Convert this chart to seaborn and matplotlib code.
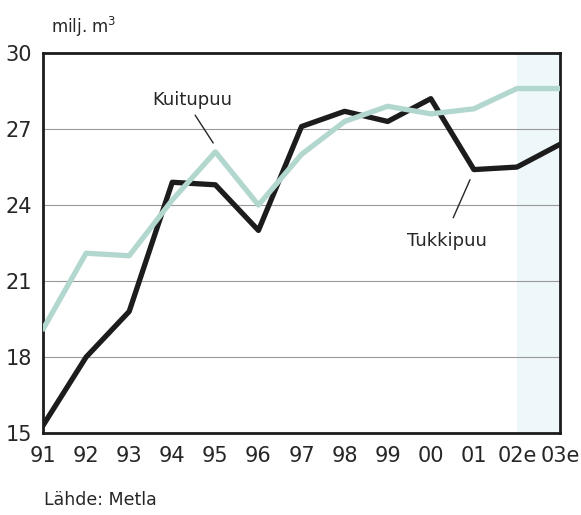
"""
Hakkuut: tukkipuu ja kuitupuu 1991-2003e (milj. m3)
"""

import pandas as pd
import matplotlib
matplotlib.use("Agg")
import matplotlib.pyplot as plt
import seaborn as sns

# =============== DATA ===============
years = ["91", "92", "93", "94", "95", "96", "97", "98", "99", "00", "01", "02e", "03e"]
tukkipuu = [15.3, 18.0, 19.8, 24.9, 24.8, 23.0, 27.1, 27.7, 27.3, 28.2, 25.4, 25.5, 26.4]
kuitupuu = [19.1, 22.1, 22.0, 24.2, 26.1, 24.0, 26.0, 27.3, 27.9, 27.6, 27.8, 28.6, 28.6]
y_ticks = [15, 18, 21, 24, 27, 30]

df = pd.DataFrame({
    "x": list(range(len(years))) * 2,
    "value": tukkipuu + kuitupuu,
    "series": ["Tukkipuu"] * len(years) + ["Kuitupuu"] * len(years),
})

# =============== STYLE ===============
sns.set_theme(style="white")
plt.rcParams["font.family"] = ["DejaVu Sans"]

DARK = "#1c1c1c"
TEXT = "#262626"
TEAL = "#b2d7cf"
SHADE = "#eef7fa"

fig = plt.figure(figsize=(5.81, 5.15), dpi=100)
ax = fig.add_axes([0.074, 0.159, 0.89, 0.738])

# forecast shading
ax.axvspan(len(years) - 2, len(years) - 1, color=SHADE, zorder=0, lw=0)

for y in y_ticks[1:-1]:
    ax.axhline(y, color="#999999", lw=0.8, zorder=1)

sns.lineplot(data=df, x="x", y="value", hue="series",
             palette={"Tukkipuu": DARK, "Kuitupuu": TEAL},
             hue_order=["Tukkipuu", "Kuitupuu"],
             linewidth=3.8, legend=False, ax=ax, zorder=3)
# kuitupuu on top
ax.lines[-1].set_zorder(4)

ax.set_xlim(0, len(years) - 1)
ax.set_ylim(15, 30)
ax.set_xticks(range(len(years)))
ax.set_xticklabels(years)
ax.set_yticks(y_ticks)
ax.set_xlabel("")
ax.set_ylabel("")

for side in ["left", "bottom", "top", "right"]:
    ax.spines[side].set_visible(True)
    ax.spines[side].set_color(DARK)
    ax.spines[side].set_linewidth(2.0)

ax.tick_params(axis="both", direction="out", length=6, width=1.5, color=DARK,
               labelsize=15, labelcolor=TEXT, pad=3)
ax.tick_params(axis="y", pad=2)

# units label
fig.text(0.088, 0.935, "milj. m$^3$", fontsize=12, color=TEXT, ha="left")

# annotations
ax.text(2.53, 27.95, "Kuitupuu", fontsize=13, color=TEXT, ha="left")
ax.plot([3.53, 3.95], [27.55, 26.45], color=TEXT, lw=1.0)
ax.text(8.45, 22.4, "Tukkipuu", fontsize=13, color=TEXT, ha="left")
ax.plot([9.52, 9.91], [23.5, 25.0], color=TEXT, lw=1.0)

fig.text(0.075, 0.02, "Lähde: Metla", fontsize=12.5, color=TEXT, ha="left")

plt.savefig("out.png", dpi=100)
plt.close()
